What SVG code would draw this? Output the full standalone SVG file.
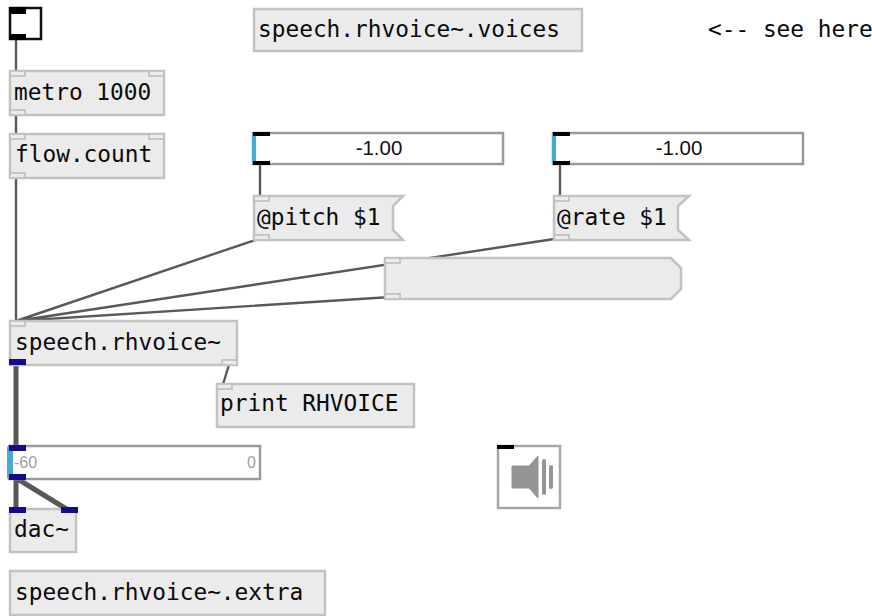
<svg xmlns="http://www.w3.org/2000/svg" width="872" height="616" viewBox="0 0 872 616">
<style>
.box{fill:#ebebeb;stroke:#c2c2c2;stroke-width:2.5}
.t{font-family:"DejaVu Sans Mono","Liberation Mono",monospace;font-size:22.8px;fill:#0a0a0a}
.n{font-family:"Liberation Sans",Arial,sans-serif;font-size:20.5px;fill:#111;text-anchor:middle}
.g{font-family:"Liberation Sans",Arial,sans-serif;font-size:16px;fill:#a0a0a0}
.p{fill:#ebebeb;stroke:#c2c2c2;stroke-width:1.8}
.c{fill:none;stroke:#595959;stroke-width:2.4}
.s{fill:none;stroke:#595959;stroke-width:5}
.num{fill:#fff;stroke:#9a9a9a;stroke-width:2.5}
.bk{fill:#000}
.bl{fill:#140a8c}
.cy{fill:#45aed0}
</style>
<rect width="872" height="616" fill="#fff"/>
<g id="connectors">
<path class="c" d="M16 39V71M16 115V134M16 178V321"/>
<path class="c" d="M260 164V196M560 164V196"/>
<path class="c" d="M261 238L16 321M561 238L16 321M391 297L16 321"/>
<path class="c" d="M229 365L223 384"/>
<path class="s" d="M16 363V447M16 478V510M16 478L68 510"/>
</g>
<g id="bang">
<rect x="10" y="8" width="31" height="31" fill="#fff" stroke="#111" stroke-width="2.5"/>
<rect class="bk" x="9" y="7" width="17" height="7"/>
<rect class="bk" x="9" y="34" width="17" height="6"/>
</g>
<g id="metro">
<rect class="box" x="10" y="71" width="154" height="44"/>
<rect class="p" x="10" y="71" width="15" height="5"/><rect class="p" x="149" y="71" width="15" height="5"/><rect class="p" x="10" y="110" width="15" height="5"/>
<text class="t" x="14" y="100">metro 1000</text>
</g>
<g id="flowcount">
<rect class="box" x="10" y="134" width="154" height="44"/>
<rect class="p" x="10" y="134" width="15" height="5"/><rect class="p" x="149" y="134" width="15" height="5"/><rect class="p" x="10" y="173" width="15" height="5"/>
<text class="t" x="15" y="162">flow.count</text>
</g>
<g id="voices">
<rect class="box" x="254" y="9" width="328" height="42"/>
<text class="t" x="258" y="37">speech.rhvoice~.voices</text>
</g>
<g id="seehere">
<text class="t" x="708" y="37">&lt;-- see here</text>
</g>
<g id="numpitch">
<rect class="num" x="253" y="133" width="250" height="31"/>
<rect class="cy" x="252" y="133" width="4" height="31"/>
<rect class="bk" x="253" y="132" width="17" height="4"/><rect class="bk" x="253" y="161" width="17" height="4"/>
<text class="n" x="379" y="155">-1.00</text>
</g>
<g id="numrate">
<rect class="num" x="553" y="133" width="250" height="31"/>
<rect class="cy" x="552" y="133" width="4" height="31"/>
<rect class="bk" x="553" y="132" width="17" height="4"/><rect class="bk" x="553" y="161" width="17" height="4"/>
<text class="n" x="679" y="155">-1.00</text>
</g>
<g id="msgpitch">
<path class="box" d="M254 196H403L393 206V230L403 240H254Z"/>
<rect class="p" x="254" y="196" width="15" height="5"/><rect class="p" x="254" y="235" width="15" height="5"/>
<text class="t" x="257" y="225">@pitch $1</text>
</g>
<g id="msgrate">
<path class="box" d="M554 196H689L678 206V230L689 240H554Z"/>
<rect class="p" x="554" y="196" width="15" height="5"/><rect class="p" x="554" y="235" width="15" height="5"/>
<text class="t" x="557" y="225">@rate $1</text>
</g>
<g id="panel">
<path class="box" d="M385 258H671L681 268V289L671 299H385Z"/>
<rect class="p" x="385" y="258" width="15" height="5"/><rect class="p" x="385" y="294" width="15" height="5"/>
</g>
<g id="rhvoice">
<rect class="box" x="10" y="321" width="227" height="44"/>
<rect class="p" x="10" y="321" width="15" height="5"/><rect class="p" x="222" y="360" width="15" height="5"/>
<rect class="bl" x="9" y="359" width="17" height="6"/>
<text class="t" x="15" y="350">speech.rhvoice~</text>
</g>
<g id="print">
<rect class="box" x="217" y="384" width="197" height="43"/>
<rect class="p" x="217" y="384" width="15" height="5"/>
<text class="t" x="220" y="411">print RHVOICE</text>
</g>
<g id="gain">
<rect class="num" x="9" y="446" width="251" height="33"/>
<rect class="cy" x="7" y="447" width="6" height="31"/>
<rect class="bl" x="9" y="445" width="17" height="6"/><rect class="bl" x="9" y="474" width="17" height="6"/>
<text class="g" x="14" y="468">-60</text>
<text class="g" x="247" y="468">0</text>
</g>
<g id="ezdac">
<rect x="498" y="446" width="62" height="62" fill="#fff" stroke="#a8a8a8" stroke-width="2.5"/>
<rect class="bk" x="497" y="445" width="17" height="4"/>
<path d="M512 466H529L538 456V498L529 488H512Z" fill="#949494" stroke="#949494" stroke-linejoin="round"/>
<rect x="542" y="459" width="4" height="36" rx="2" fill="#949494"/>
<rect x="549" y="465" width="4" height="24" rx="2" fill="#949494"/>
</g>
<g id="dac">
<rect class="box" x="10" y="509" width="66" height="43"/>
<rect class="bl" x="9" y="507" width="17" height="6"/><rect class="bl" x="61" y="507" width="17" height="6"/>
<text class="t" x="14" y="537">dac~</text>
</g>
<g id="extra">
<rect class="box" x="10" y="571" width="315" height="44"/>
<text class="t" x="15" y="600">speech.rhvoice~.extra</text>
</g>
</svg>
